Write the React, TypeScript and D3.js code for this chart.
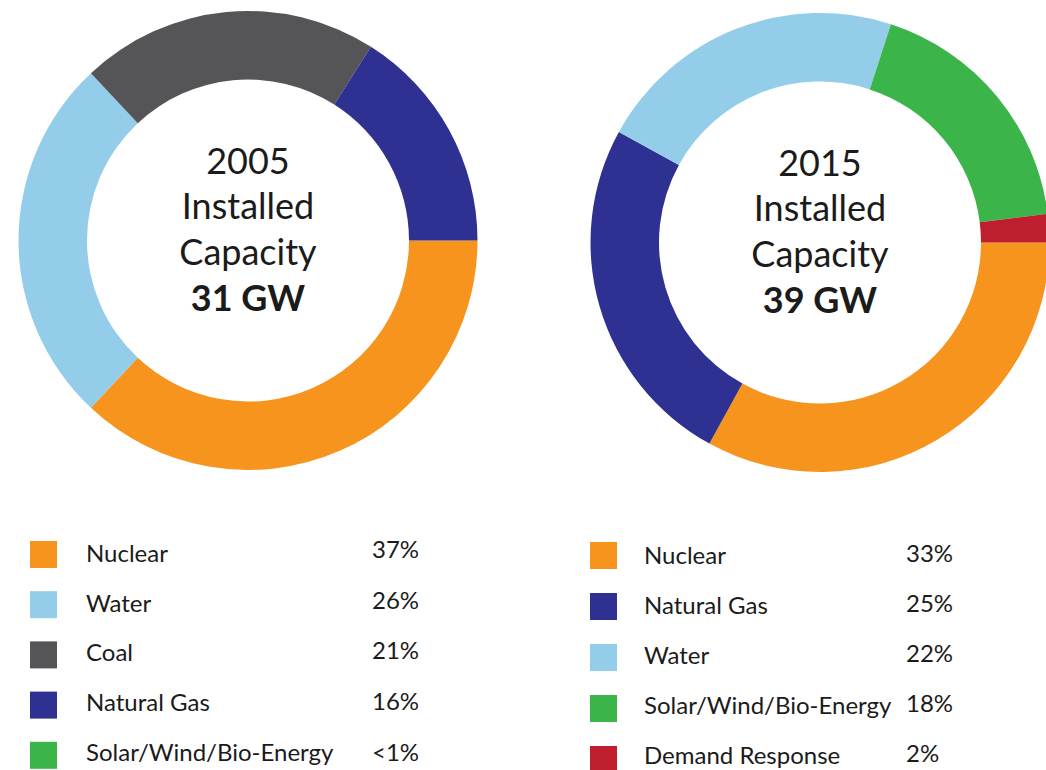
import React from "react";
import * as d3 from "d3";

const categories2005 = ["Nuclear", "Water", "Coal", "Natural Gas", "Solar/Wind/Bio-Energy"];
const values2005 = [37, 26, 21, 16, 0];
const pctLabels2005 = ["37%", "26%", "21%", "16%", "<1%"];

const categories2015 = ["Nuclear", "Natural Gas", "Water", "Solar/Wind/Bio-Energy", "Demand Response"];
const values2015 = [33, 25, 22, 18, 2];
const pctLabels2015 = ["33%", "25%", "22%", "18%", "2%"];

const titles = [
  ["2005", "Installed", "Capacity", "31 GW"],
  ["2015", "Installed", "Capacity", "39 GW"],
];

const colorFor: Record<string, string> = {
  "Nuclear": "#F7941E",
  "Water": "#94CDEA",
  "Coal": "#555557",
  "Natural Gas": "#2E3192",
  "Solar/Wind/Bio-Energy": "#3BB54A",
  "Demand Response": "#BE1E2D",
};

const FONT = "Lato, 'Open Sans', sans-serif";
const TEXT = "#1b1b1b";

type DonutProps = {
  cx: number; cy: number; cats: string[]; vals: number[]; title: string[];
};

function Donut({ cx, cy, cats, vals, title }: DonutProps) {
  const pie = d3.pie<number>().sort(null).value((d) => d)
    .startAngle(Math.PI / 2).endAngle(Math.PI / 2 + 2 * Math.PI);
  const arc = d3.arc<d3.PieArcDatum<number>>().innerRadius(161).outerRadius(229.5);
  const arcs = pie(vals);
  const baselines = [-66.5, -21.5, 24.5, 70];
  return (
    <g transform={`translate(${cx},${cy})`}>
      {arcs.map((a, i) => (
        <path key={i} d={arc(a) || ""} fill={colorFor[cats[i]]} />
      ))}
      {title.map((t, i) => (
        <text key={i} x={0} y={baselines[i]} textAnchor="middle" fontFamily={FONT}
          fontSize={36} fontWeight={i === 3 ? 700 : 400} fill={TEXT}>{t}</text>
      ))}
    </g>
  );
}

type LegendProps = {
  x: number; y: number; step: number;
  textX: number; textY: number; textStep: number;
  pctX: number; pctY: number; pctStep: number;
  cats: string[]; pcts: string[];
};

function Legend({ x, y, step, textX, textY, textStep, pctX, pctY, pctStep, cats, pcts }: LegendProps) {
  return (
    <g>
      {cats.map((c, i) => (
        <g key={c}>
          <rect x={x} y={y + i * step} width={27} height={27} fill={colorFor[c]} />
          <text x={textX} y={textY + i * textStep} fontFamily={FONT} fontSize={24} fill={TEXT}>{c}</text>
          <text x={pctX} y={pctY + i * pctStep} fontFamily={FONT} fontSize={24} fill={TEXT}>{pcts[i]}</text>
        </g>
      ))}
    </g>
  );
}

export default function App() {
  return (
    <svg width={1046} height={770} style={{ position: "absolute", left: 0, top: 0, background: "#fff" }}>
      <rect width={1046} height={770} fill="#fff" />
      <Donut cx={248} cy={240.5} cats={categories2005} vals={values2005} title={titles[0]} />
      <Donut cx={820} cy={242.5} cats={categories2015} vals={values2015} title={titles[1]} />
      <Legend x={30} y={541} step={50.2} textX={86} textY={562} textStep={49.7}
        pctX={372} pctY={558} pctStep={50.7} cats={categories2005} pcts={pctLabels2005} />
      <Legend x={590} y={542} step={51} textX={644} textY={564} textStep={50}
        pctX={906} pctY={561.5} pctStep={50.2} cats={categories2015} pcts={pctLabels2015} />
    </svg>
  );
}
